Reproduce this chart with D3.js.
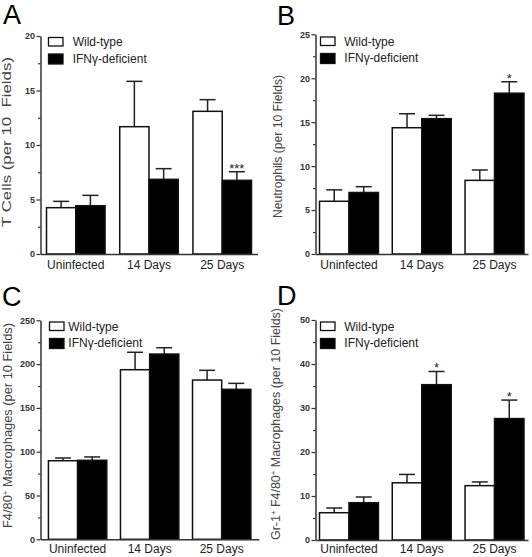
<!DOCTYPE html>
<html>
<head>
<meta charset="utf-8">
<script src="https://cdn.jsdelivr.net/npm/d3@7"></script>
<style>
  html, body { margin: 0; padding: 0; background: #fff; }
  svg { display: block; font-family: "Liberation Sans", Arial, sans-serif; }
</style>
</head>
<body>
<svg id="chart" width="532" height="557"></svg>
<script>
// ---------- DATA ----------
const categories = ["Uninfected", "14 Days", "25 Days"];
const seriesNames = ["Wild-type", "IFNγ-deficient"];

// Panel A: T cells
const tCellsWT = [4.25, 11.68, 13.09];
const tCellsWTSem = [0.58, 4.16, 1.07];
const tCellsKO = [4.43, 6.85, 6.76];
const tCellsKOSem = [0.95, 0.98, 0.79];
const tCellsSig = ["", "", "***"];
const tCellsTicks = [0, 5, 10, 15, 20];

// Panel B: Neutrophils
const neutroWT = [6.0, 14.37, 8.38];
const neutroWTSem = [1.3, 1.59, 1.18];
const neutroKO = [7.0, 15.4, 18.3];
const neutroKOSem = [0.66, 0.38, 1.3];
const neutroSig = ["", "", "*"];
const neutroTicks = [0, 5, 10, 15, 20, 25];

// Panel C: F4/80+ macrophages
const f480WT = [89.7, 193.6, 181.8];
const f480WTSem = [3.1, 19.9, 11.1];
const f480KO = [90.2, 211.5, 171.2];
const f480KOSem = [3.8, 7.2, 6.8];
const f480Sig = ["", "", ""];
const f480Ticks = [0, 50, 100, 150, 200, 250];

// Panel D: Gr-1+ F4/80+ macrophages
const gr1WT = [6.2, 13.0, 12.35];
const gr1WTSem = [1.07, 1.9, 0.85];
const gr1KO = [8.48, 35.3, 27.6];
const gr1KOSem = [1.29, 3.0, 4.2];
const gr1Sig = ["", "*", "*"];
const gr1Ticks = [0, 10, 20, 30, 40, 50];

// ---------- LAYOUT ----------
const panels = [
  { letter: "A", wt: tCellsWT, wtSem: tCellsWTSem, ko: tCellsKO, koSem: tCellsKOSem, sig: tCellsSig, ticks: tCellsTicks,
    label: [["T Cells (per 10  Fields)"]],
    left: 40.5, right: 257.5, top: 36, bottom: 254, pIn: 0.2, pOut: 0.082, xPad: 6.5,
    letterX: 3, letterY: 24, labelX: 11, labelY: 142, labelLen: 170,
    legX: 48.5, legY: 37.5, legTextX: 72.7 },
  { letter: "B", wt: neutroWT, wtSem: neutroWTSem, ko: neutroKO, koSem: neutroKOSem, sig: neutroSig, ticks: neutroTicks,
    label: [["Neutrophils (per 10 Fields)"]],
    left: 315.5, right: 528, top: 34.3, bottom: 254, pIn: 0.19, pOut: 0.055, xPad: 6.5,
    letterX: 277, letterY: 25, labelX: 281.7, labelY: 146.5, labelLen: 143,
    legX: 320.5, legY: 37, legTextX: 344.3 },
  { letter: "C", wt: f480WT, wtSem: f480WTSem, ko: f480KO, koSem: f480KOSem, sig: f480Sig, ticks: f480Ticks,
    label: [["F4/80"], ["+", "sup"], [" Macrophages (per 10 Fields)"]],
    left: 40.5, right: 258.8, top: 320.3, bottom: 539.3, pIn: 0.19, pOut: 0.11, xPad: 5,
    letterX: 2, letterY: 306, labelX: 12, labelY: 425.5, labelLen: 205,
    legX: 49.5, legY: 322, legTextX: 68.3 },
  { letter: "D", wt: gr1WT, wtSem: gr1WTSem, ko: gr1KO, koSem: gr1KOSem, sig: gr1Sig, ticks: gr1Ticks,
    label: [["Gr-1"], ["+", "sup"], [" F4/80"], ["+", "sup"], [" Macrophages (per 10 Fields)"]],
    left: 315.5, right: 528, top: 320, bottom: 540, pIn: 0.19, pOut: 0.055, xPad: 4.5,
    letterX: 277, letterY: 305, labelX: 280, labelY: 424, labelLen: 232,
    legX: 320.5, legY: 322, legTextX: 344.3 }
];

const svg = d3.select("#chart");
const axisColor = "#333";

panels.forEach(p => {
  const g = svg.append("g");
  const ymax = d3.max(p.ticks);
  const y = d3.scaleLinear().domain([0, ymax]).range([p.bottom, p.top]);
  const x = d3.scaleBand().domain(categories).range([p.left, p.right])
    .paddingInner(p.pIn).paddingOuter(p.pOut);
  const xs = d3.scaleBand().domain(seriesNames).range([0, x.bandwidth()]);

  // panel letter
  g.append("text").attr("x", p.letterX).attr("y", p.letterY)
    .attr("font-size", 27).attr("fill", "#000").text(p.letter);

  // y label
  const lab = g.append("text")
    .attr("transform", `translate(${p.labelX},${p.labelY}) rotate(-90)`)
    .attr("text-anchor", "middle").attr("font-size", 12).attr("fill", "#444")
    .attr("textLength", p.labelLen).attr("lengthAdjust", "spacingAndGlyphs")
    .style("white-space", "pre");
  p.label.forEach(([t, kind]) => {
    const ts = lab.append("tspan").text(t);
    if (kind === "sup") ts.attr("baseline-shift", "super").attr("font-size", 7.5);
  });

  const rows = [];
  categories.forEach((c, i) => {
    rows.push({ cat: c, s: seriesNames[0], v: p.wt[i], e: p.wtSem[i], sig: "" });
    rows.push({ cat: c, s: seriesNames[1], v: p.ko[i], e: p.koSem[i], sig: p.sig[i] });
  });

  // error bars
  const cap = 16;
  rows.forEach(d => {
    const cx = x(d.cat) + xs(d.s) + xs.bandwidth() / 2;
    g.append("line").attr("x1", cx).attr("x2", cx)
      .attr("y1", y(d.v)).attr("y2", y(d.v + d.e))
      .attr("stroke", "#222").attr("stroke-width", 1.5);
    g.append("line").attr("x1", cx - cap / 2).attr("x2", cx + cap / 2)
      .attr("y1", y(d.v + d.e)).attr("y2", y(d.v + d.e))
      .attr("stroke", "#222").attr("stroke-width", 1.5);
    if (d.sig) {
      g.append("text").attr("x", cx).attr("y", y(d.v + d.e) + 1)
        .attr("text-anchor", "middle").attr("font-size", 13).attr("fill", "#222")
        .text(d.sig);
    }
  });

  g.selectAll("rect.bar").data(rows).join("rect").attr("class", "bar")
    .attr("x", d => x(d.cat) + xs(d.s))
    .attr("width", xs.bandwidth())
    .attr("y", d => y(d.v))
    .attr("height", d => y(0) - y(d.v))
    .attr("fill", d => d.s === seriesNames[0] ? "#fff" : "#000")
    .attr("stroke", "#111").attr("stroke-width", 1.5);

  // y axis major
  const yAxis = g.append("g").attr("transform", `translate(${p.left},0)`)
    .call(d3.axisLeft(y).tickValues(p.ticks).tickSize(4).tickSizeOuter(0).tickPadding(1.5));
  yAxis.select(".domain").attr("stroke", axisColor).attr("stroke-width", 1.5);
  yAxis.selectAll(".tick line").attr("stroke", axisColor).attr("stroke-width", 1.2);
  yAxis.selectAll(".tick text").attr("font-size", 9).attr("font-weight", "bold")
    .attr("fill", "#333").attr("font-family", "Liberation Sans, Arial, sans-serif");

  // y axis minor ticks (midpoints)
  const step = p.ticks[1] - p.ticks[0];
  const minors = p.ticks.slice(0, -1).map(t => t + step / 2);
  const yMinor = g.append("g").attr("transform", `translate(${p.left},0)`)
    .call(d3.axisLeft(y).tickValues(minors).tickSize(2.5).tickFormat(""));
  yMinor.select(".domain").remove();
  yMinor.selectAll(".tick line").attr("stroke", axisColor).attr("stroke-width", 1.2);

  // x axis
  const xAxis = g.append("g").attr("transform", `translate(0,${p.bottom})`)
    .call(d3.axisBottom(x).tickSize(0).tickSizeOuter(0).tickPadding(p.xPad));
  xAxis.select(".domain").attr("stroke", axisColor).attr("stroke-width", 1.5);
  xAxis.selectAll(".tick text").attr("font-size", 12).attr("fill", "#222")
    .attr("font-family", "Liberation Sans, Arial, sans-serif");

  // legend
  seriesNames.forEach((s, i) => {
    const ly = p.legY + i * 16.5;
    g.append("rect").attr("x", p.legX).attr("y", ly)
      .attr("width", 14.5).attr("height", i === 0 ? 8.5 : 10)
      .attr("fill", i === 0 ? "#fff" : "#000").attr("stroke", "#111").attr("stroke-width", 1.3);
    g.append("text").attr("x", p.legTextX).attr("y", ly + 8.5)
      .attr("font-size", 12).attr("fill", "#222").text(s);
  });
});
</script>
</body>
</html>
